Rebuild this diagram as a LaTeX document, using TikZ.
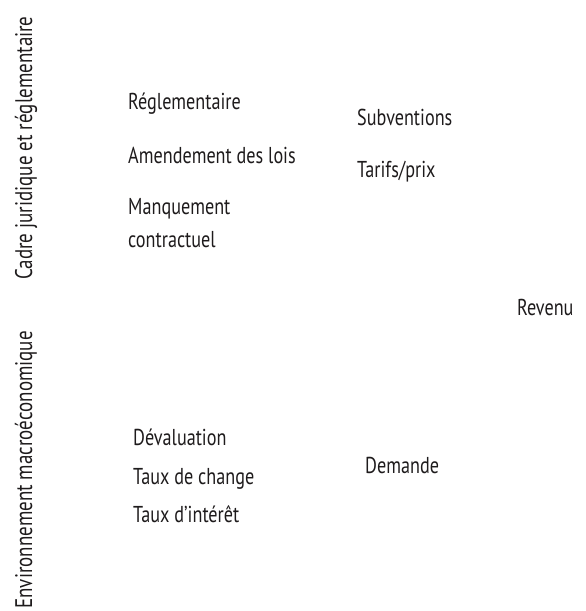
\documentclass[tikz,border=0pt]{standalone}
\usepackage{fontspec}
\setmainfont[FakeStretch=0.79]{PT Sans}
\definecolor{riskText}{RGB}{30,27,28}

\begin{document}
\begin{tikzpicture}[x=1pt,y=1pt,
      sector/.style={font=\fontsize{24}{28}\selectfont,
        text=riskText, rotate=90, anchor=base, inner sep=0pt},
      factor/.style={font=\fontsize{23}{33}\selectfont,
        text=riskText, anchor=base west, inner sep=0pt, align=left}]
      \useasboundingbox (0,0) rectangle (586,611);

      % Sector labels on the left edge.
      \node[sector] (legal) at (32,463) {Cadre juridique et réglementaire};
      \node[sector] (macro) at (32,141) {Environnement macroéconomique};

      % Legal and regulatory factors.
      \node[factor] (regl) at (128,501) {Réglementaire};
      \node[factor] (amend) at (128,447) {Amendement des lois};
      \node[factor] (breach) at (128,363) {Manquement\\contractuel};
      \node[factor] (subsidy) at (357,485) {Subventions};
      \node[factor] (tariff) at (357,433) {Tarifs/prix};

      % Outcome.
      \node[factor] (revenue) at (517,295) {Revenu};

      % Macroeconomic factors.
      \node[factor] (deval) at (133,165) {Dévaluation};
      \node[factor] (fx) at (133,126) {Taux de change};
      \node[factor] (rate) at (133,88) {Taux d’intérêt};
      \node[factor] (demand) at (365,137) {Demande};
    \end{tikzpicture}
\end{document}
